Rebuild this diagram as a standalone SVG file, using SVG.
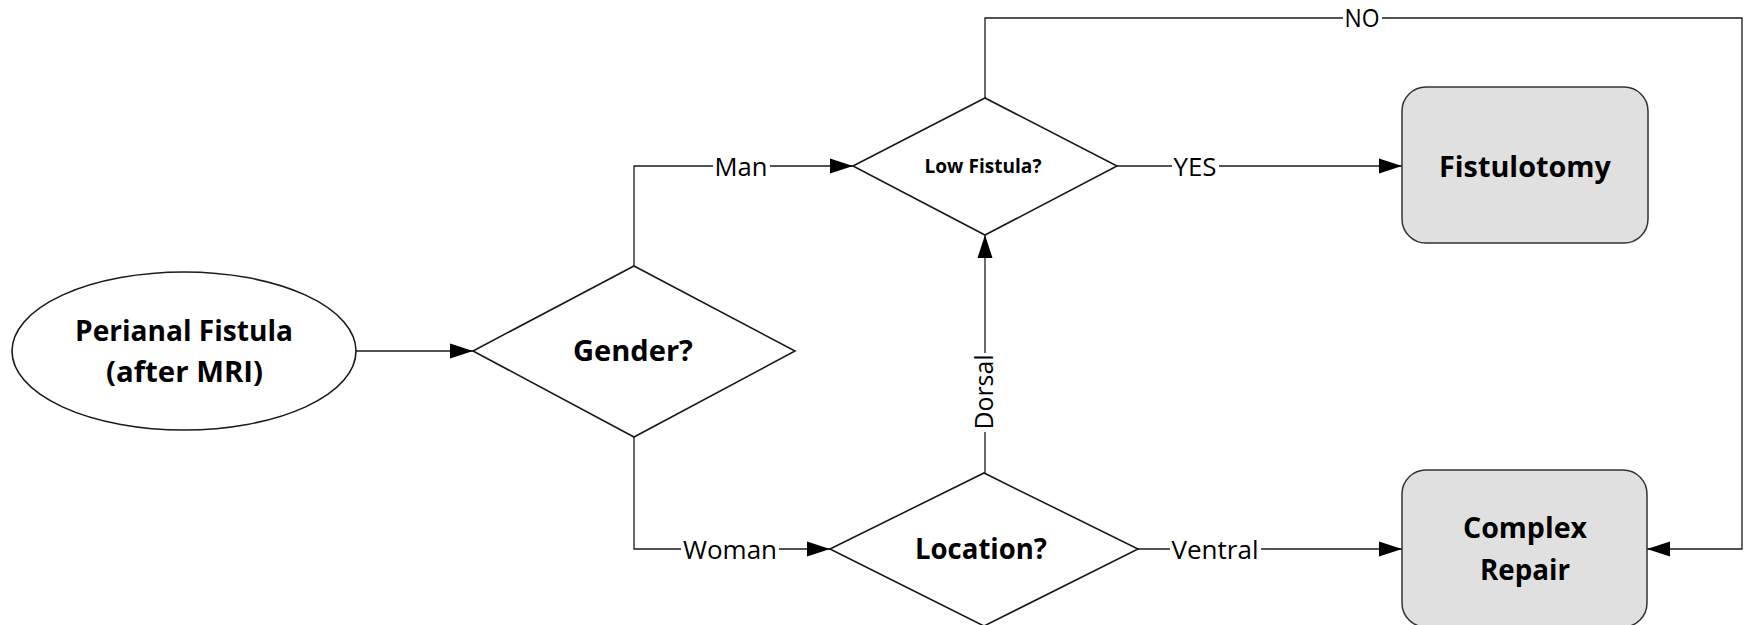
<svg xmlns="http://www.w3.org/2000/svg" width="1745" height="625" viewBox="0 0 1745 625">
<style>
.shape{fill:#ffffff;stroke:#1a1a1a;stroke-width:1.6}
.box{fill:#e0e0e0;stroke:#333333;stroke-width:1.5}
.conn{fill:none;stroke:#1a1a1a;stroke-width:1.3}
.main{font-family:"Open Sans","Liberation Sans",sans-serif;font-weight:bold;font-size:28px;fill:#000;text-anchor:middle}
.small{font-family:"Open Sans","Liberation Sans",sans-serif;font-weight:bold;font-size:20px;fill:#000;text-anchor:middle}
.lbl{font-family:"Open Sans","Liberation Sans",sans-serif;font-size:25px;fill:#000;text-anchor:middle}
.bg{fill:#ffffff}
</style>
<defs>
<marker id="arr" markerWidth="24" markerHeight="16" refX="23" refY="8" orient="auto" markerUnits="userSpaceOnUse">
<path d="M0,0.5 L23,8 L0,15.5 z" fill="#000"/>
</marker>
</defs>
<rect width="1745" height="625" fill="#ffffff"/>

<g id="connectors">
<path class="conn" d="M356,351 H473" marker-end="url(#arr)"/>
<path class="conn" d="M634,266 V166 H853" marker-end="url(#arr)"/>
<path class="conn" d="M634,437 V549 H830" marker-end="url(#arr)"/>
<path class="conn" d="M1117,166 H1402" marker-end="url(#arr)"/>
<path class="conn" d="M985,98 V18 H1742 V549 H1647" marker-end="url(#arr)"/>
<path class="conn" d="M985,473 V235" marker-end="url(#arr)"/>
<path class="conn" d="M1138,549 H1402" marker-end="url(#arr)"/>
<g id="labels">
<rect class="bg" x="713" y="152" width="57" height="28"/>
<text class="lbl" x="741" y="176" textLength="53" lengthAdjust="spacingAndGlyphs">Man</text>
<rect class="bg" x="681" y="535" width="98" height="28"/>
<text class="lbl" x="730" y="559" textLength="94" lengthAdjust="spacingAndGlyphs">Woman</text>
<rect class="bg" x="1172" y="152" width="47" height="28"/>
<text class="lbl" x="1195" y="176" textLength="43" lengthAdjust="spacingAndGlyphs">YES</text>
<rect class="bg" x="1343" y="4" width="39" height="27"/>
<text class="lbl" x="1362" y="27" textLength="35" lengthAdjust="spacingAndGlyphs">NO</text>
<rect class="bg" x="1170" y="535" width="91" height="28"/>
<text class="lbl" x="1215" y="559" textLength="87" lengthAdjust="spacingAndGlyphs">Ventral</text>
<rect class="bg" x="969" y="353" width="28" height="79"/>
<text class="lbl" transform="translate(993,392) rotate(-90)" x="0" y="0" textLength="75" lengthAdjust="spacingAndGlyphs">Dorsal</text>
</g>
</g>

<g id="start">
<ellipse class="shape" cx="184" cy="351" rx="172" ry="79"/>
<text class="main" x="184" y="341" textLength="218" lengthAdjust="spacingAndGlyphs">Perianal Fistula</text>
<text class="main" x="184.5" y="382" textLength="157" lengthAdjust="spacingAndGlyphs">(after MRI)</text>
</g>

<g id="gender">
<polygon class="shape" points="473,351 634,266 795,351 634,437"/>
<text class="main" x="633" y="361" textLength="120" lengthAdjust="spacingAndGlyphs">Gender?</text>
</g>

<g id="lowfistula">
<polygon class="shape" points="853,166 985,98 1117,166 985,235"/>
<text class="small" x="983" y="173" textLength="117" lengthAdjust="spacingAndGlyphs">Low Fistula?</text>
</g>

<g id="location">
<polygon class="shape" points="830,549 984,473 1138,549 984,626"/>
<text class="main" x="981" y="559" textLength="132" lengthAdjust="spacingAndGlyphs">Location?</text>
</g>

<g id="fistulotomy">
<rect class="box" x="1402" y="87" width="246" height="156" rx="24" ry="24"/>
<text class="main" x="1525" y="177" textLength="172" lengthAdjust="spacingAndGlyphs">Fistulotomy</text>
</g>

<g id="complexrepair">
<rect class="box" x="1402" y="470" width="245" height="157" rx="24" ry="24"/>
<text class="main" x="1525" y="538" textLength="124" lengthAdjust="spacingAndGlyphs">Complex</text>
<text class="main" x="1525" y="580" textLength="90" lengthAdjust="spacingAndGlyphs">Repair</text>
</g>
</svg>
